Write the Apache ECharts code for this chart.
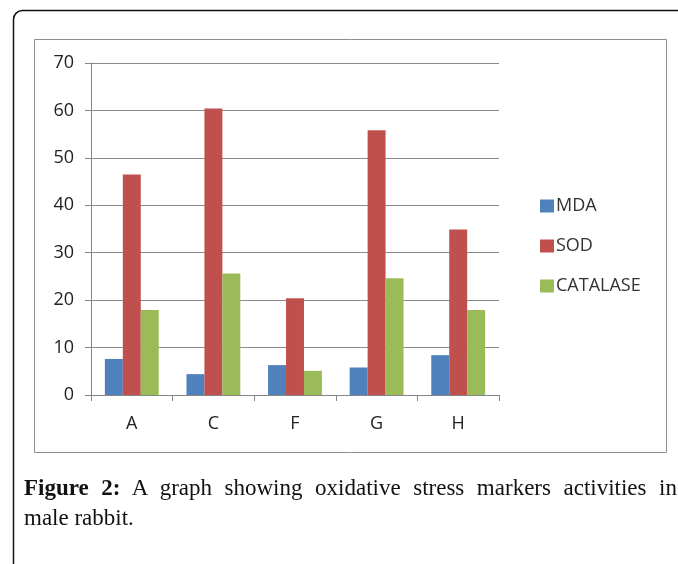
<!DOCTYPE html>
<html>
<head>
<meta charset="utf-8">
<script src="https://cdn.jsdelivr.net/npm/echarts@6/dist/echarts.min.js"></script>
<style>
  html, body { margin: 0; padding: 0; background: #fff; }
  #wrap { position: relative; width: 678px; height: 564px; overflow: hidden; }
  #main { position: absolute; left: 0; top: 0; width: 678px; height: 564px; }
  #caption {
    position: absolute; left: 24px; top: 473px; width: 653px;
    font-family: "Liberation Serif", "DejaVu Serif", serif; font-size: 23px;
    line-height: 30px; color: #111;
  }
  #caption .l1 { text-align: justify; text-align-last: justify; white-space: nowrap; }
  #caption b { font-weight: bold; }
</style>
</head>
<body>
<div id="wrap">
  <div id="main"></div>
  <div id="caption">
    <div class="l1"><b>Figure 2:</b> A graph showing oxidative stress markers activities in</div>
    <div>male rabbit.</div>
  </div>
</div>
<script>
// 数据
var categories = ['A', 'C', 'F', 'G', 'H'];
var mda = [7.6, 4.4, 6.3, 5.8, 8.4];
var sod = [46.5, 60.4, 20.4, 55.8, 34.9];
var catalase = [17.9, 25.6, 5.1, 24.6, 17.9];
var yTicks = [0, 10, 20, 30, 40, 50, 60, 70];

var chart = echarts.init(document.getElementById('main'), null, { renderer: 'canvas' });

var labelFont = '"Open Sans", "Noto Sans", sans-serif';

var option = {
  animation: false,
  backgroundColor: '#fff',
  color: ['#4F81BD', '#C0504D', '#9BBB59'],
  graphic: [
    // 外框
    {
      type: 'rect',
      shape: { x: 13.5, y: 10.5, width: 720, height: 620, r: [9, 0, 0, 0] },
      style: { fill: 'none', stroke: '#111', lineWidth: 1.5 },
      silent: true
    },
    // 图表框
    {
      type: 'rect',
      shape: { x: 34.5, y: 39.5, width: 632, height: 413 },
      style: { fill: 'none', stroke: '#8c8c8c', lineWidth: 1 },
      silent: true
    }
  ],
  legend: {
    orient: 'vertical',
    left: 535,
    top: 192,
    itemWidth: 14,
    itemHeight: 13,
    itemGap: 22,
    icon: 'rect',
    textStyle: { fontFamily: labelFont, fontSize: 18, color: '#333', padding: [0, 0, 0, -3] },
    data: ['MDA', 'SOD', 'CATALASE']
  },
  grid: {
    left: 91,
    right: 179,
    top: 63,
    bottom: 169,
    containLabel: false
  },
  xAxis: {
    type: 'category',
    data: categories,
    axisLine: { show: true, lineStyle: { color: '#868686', width: 1 } },
    axisTick: { show: true, length: 6, lineStyle: { color: '#868686' } },
    axisLabel: { margin: 20, fontFamily: labelFont, fontSize: 18, color: '#222' },
    splitLine: { show: false }
  },
  yAxis: {
    type: 'value',
    min: yTicks[0],
    max: yTicks[yTicks.length - 1],
    interval: 10,
    axisLine: { show: true, lineStyle: { color: '#868686', width: 1 } },
    axisTick: { show: true, length: 6, lineStyle: { color: '#868686' } },
    axisLabel: { margin: 17, fontFamily: labelFont, fontSize: 18, color: '#222' },
    splitLine: { show: true, lineStyle: { color: '#8a8a8a', width: 1 } }
  },
  series: [
    { name: 'MDA', type: 'bar', data: mda, barGap: '0%', barCategoryGap: '34%' },
    { name: 'SOD', type: 'bar', data: sod, barGap: '0%', barCategoryGap: '34%' },
    { name: 'CATALASE', type: 'bar', data: catalase, barGap: '0%', barCategoryGap: '34%' }
  ]
};

chart.setOption(option);
</script>
</body>
</html>
